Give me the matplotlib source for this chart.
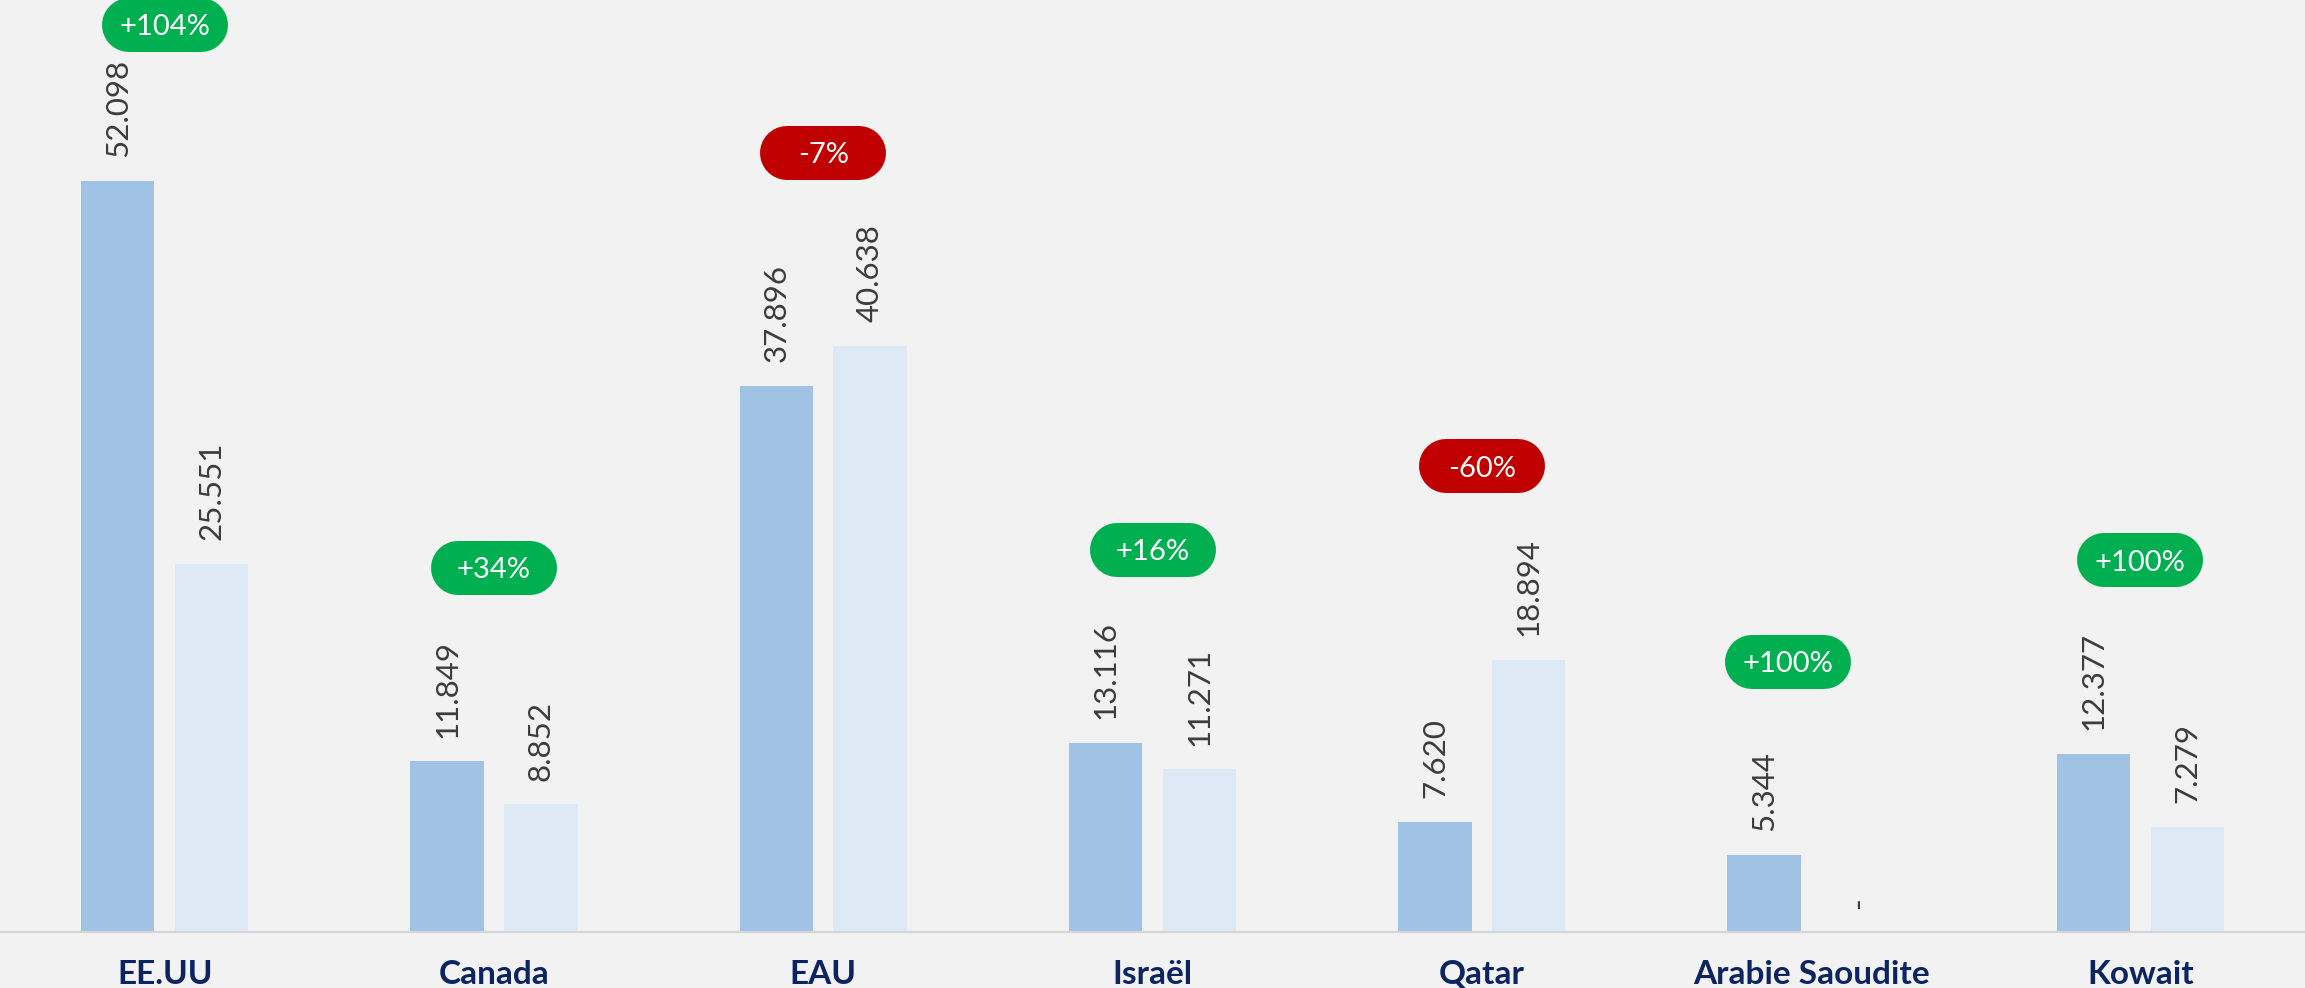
import numpy as np
import matplotlib
matplotlib.use("Agg")
import matplotlib.pyplot as plt
from matplotlib.lines import Line2D
from matplotlib.transforms import ScaledTranslation

countries = ["EE.UU", "Canada", "EAU", "Israël", "Qatar", "Arabie Saoudite", "Kowait"]
current = [52.098, 11.849, 37.896, 13.116, 7.620, 5.344, 12.377]
previous = [25.551, 8.852, 40.638, 11.271, 18.894, 0.0, 7.279]
changes = ["+104%", "+34%", "-7%", "+16%", "-60%", "+100%", "+100%"]

BG = "#f2f2f2"
C1 = "#9fc2e5"
C2 = "#ddeaf6"
GREEN = "#00b050"
RED = "#c00000"
NAVY = "#0c2461"

plt.rcParams["font.family"] = ["Lato", "DejaVu Sans"]

fig = plt.figure(figsize=(23.05, 9.88), dpi=100, facecolor=BG)
ax = fig.add_axes([0, 0.0567, 1, 0.9433])
ax.set_facecolor(BG)

x = np.arange(len(countries))
w = 0.223
off = 0.1424
ax.bar(x - off, current, w, color=C1, zorder=2)
ax.bar(x + off, previous, w, color=C2, zorder=2)
ax.set_xlim(-0.5, len(countries) - 0.5)
ax.set_ylim(0, 64.63)
ax.axhline(0, color="#d6d6d6", lw=1.6, zorder=3, clip_on=False)

for xs, vals in [(x - off, current), (x + off, previous)]:
    for xi, v in zip(xs, vals):
        label = f"{v:.3f}" if v > 0 else "-"
        ax.annotate(label, (xi, v), xytext=(0, 17), textcoords="offset points",
                    rotation=90, ha="center", va="bottom", fontsize=22.5,
                    color="#3c3c3c", zorder=4)

# pills with the change: a thick line with round caps, sized in inches
pw, ph = 1.26, 0.54
for i, (c, v1, v2) in enumerate(zip(changes, current, previous)):
    col = GREEN if c.startswith("+") else RED
    px = i if v2 > 0 else (i + i - off) / 2
    py = min(max(v1, v2) + 13.4, 62.9)
    tr = fig.dpi_scale_trans + ScaledTranslation(px, py, ax.transData)
    half = (pw - ph) / 2
    pill = Line2D([-half, half], [0, 0], transform=tr, color=col,
                  lw=ph * 72, solid_capstyle="round", zorder=5, clip_on=False)
    ax.add_line(pill)
    ax.text(px, py, c, ha="center", va="center_baseline", fontsize=21,
            color="white", zorder=6)

for xi, name in zip(x, countries):
    ax.text(xi, -52 / 932, name, transform=ax.get_xaxis_transform(), ha="center",
            va="baseline", fontsize=24, fontweight="bold", color=NAVY)

ax.set_xticks([])
ax.set_yticks([])
for s in ax.spines.values():
    s.set_visible(False)

fig.savefig("out.png", dpi=100, facecolor=BG)
